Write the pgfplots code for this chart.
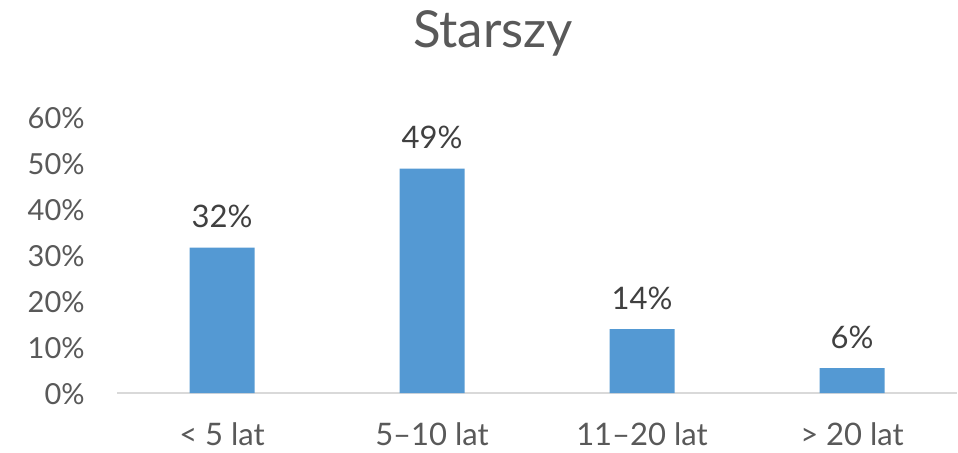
\documentclass[border=0pt]{standalone}
\usepackage{fontspec}
\setmainfont{Lato}
\usepackage{pgfplots}
\pgfplotsset{compat=1.18}
\definecolor{barblue}{RGB}{84,153,211}
\definecolor{txtgray}{RGB}{89,89,89}
\definecolor{lblgray}{RGB}{64,64,64}
\definecolor{axgray}{RGB}{217,217,217}
\begin{document}
\begin{tikzpicture}
\useasboundingbox (0,0) rectangle (479pt,226pt);
\begin{axis}[
  at={(58.5pt,29.5pt)}, anchor=south west,
  width=420pt, height=138pt, scale only axis,
  xmin=-0.5, xmax=3.5, ymin=0, ymax=60,
  xtick={0,1,2,3},
  xticklabels={{< 5 lat},{5–10 lat},{11–20 lat},{> 20 lat}},
  ytick={0,10,20,30,40,50,60},
  yticklabel={\pgfmathprintnumber{\tick}\%},
  /pgf/number format/assume math mode=true,
  major tick length=0pt,
  axis x line*=bottom, axis y line*=left,
  x axis line style={draw=axgray, line width=1pt, -},
  y axis line style={draw=none},
  ymajorgrids=false,
  yticklabel style={anchor=base east, inner sep=0pt, xshift=-16pt, yshift=-5.9pt, font=\fontsize{14.5pt}{17pt}\selectfont, text=txtgray},
  xticklabel style={anchor=base, inner sep=0pt, yshift=-26pt, font=\fontsize{15.5pt}{18pt}\selectfont, text=txtgray},
  ybar, bar width=32.5pt,
  nodes near coords,
  every node near coord/.style={anchor=base, inner sep=0pt, yshift=10pt, font=\fontsize{15.5pt}{18pt}\selectfont, text=lblgray},
  point meta=explicit symbolic,
  clip=false,
]
\addplot[fill=barblue, draw=none] coordinates {(0,31.6) [32\%] (1,48.8) [49\%] (2,13.9) [14\%] (3,5.4) [6\%]};
\end{axis}
\node[anchor=base, inner sep=0pt, text=txtgray, font=\fontsize{25.5pt}{30pt}\selectfont] at (246.5pt,202.2pt) {Starszy};
\end{tikzpicture}
\end{document}
